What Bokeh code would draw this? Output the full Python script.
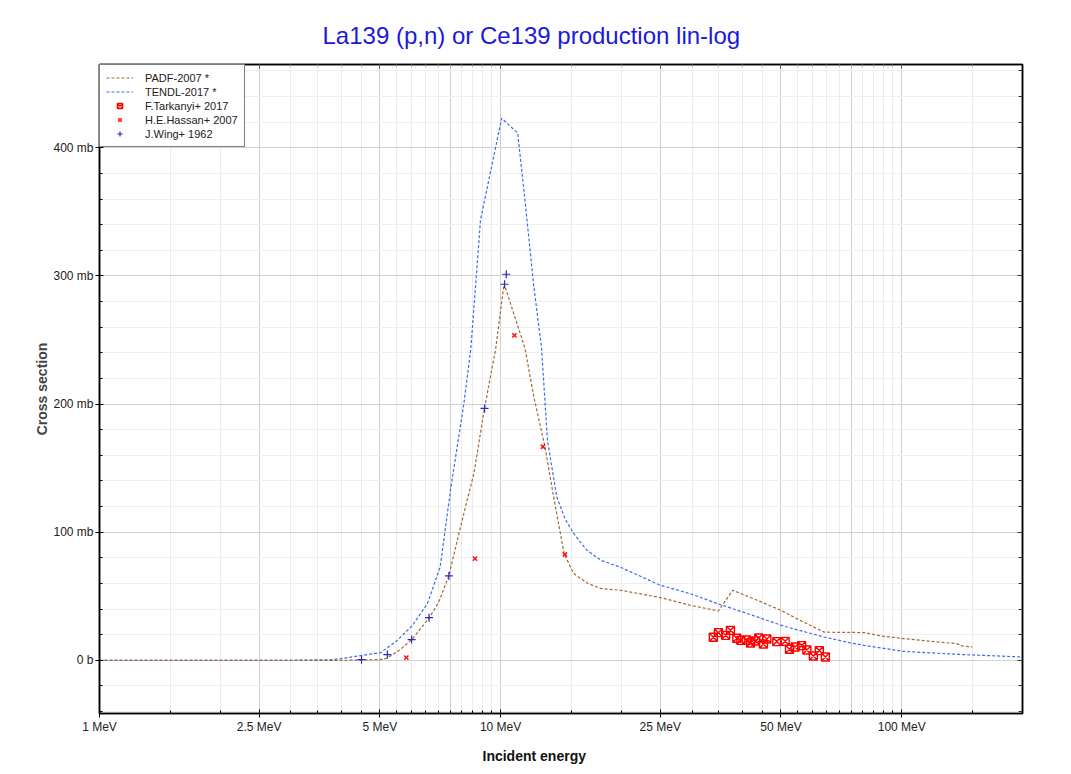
from bokeh.plotting import figure
from bokeh.models import (Range1d, FixedTicker, LogAxis, LinearAxis, Title, Legend, LegendItem)
from bokeh.embed import file_html
from bokeh.resources import INLINE

# ---------------- data ----------------
padf_e = [1, 2, 3, 4, 4.5, 5.0, 5.2, 5.6, 6.0, 6.63, 7.0, 7.43, 7.94, 8.58, 9.12, 9.72, 10.2,
          11.5, 12.1, 12.9, 13.6, 14.4, 15.2, 16.5, 17.8, 19.9, 25, 29.7, 34.9, 37.9, 43.6,
          50, 55.7, 64, 70, 75, 80.7, 88.9, 101, 117, 137, 142, 150]
padf_s = [0, 0, 0, 0, 0.2, 0.6, 1.5, 8, 16, 33, 45, 66, 104, 146, 197, 243, 294,
          243.5, 205.7, 166.6, 125, 83.3, 67.7, 60, 56, 54.7, 49, 43, 38.5, 54.7, 46.9,
          39, 31.3, 22, 21.8, 21.8, 21.6, 19, 17, 15, 13, 11.2, 10.4]

tendl_e = [1, 2, 3, 3.8, 4.0, 4.52, 5.02, 5.5, 6.03, 6.57, 7.07, 7.5, 8.1, 8.43, 8.91, 10.06,
           11.03, 11.5, 12.1, 12.65, 13.08, 13.8, 14.5, 15.2, 16.4, 17.8, 19.9, 25, 29.7, 34.7,
           43.6, 50.9, 64, 74.7, 80.7, 101, 137, 200]
tendl_s = [0, 0, 0, 0.5, 1.3, 3.9, 6, 15, 27.3, 44.3, 73, 133, 200.5, 243.5, 343.8, 423,
           411.5, 359, 291.6, 243.5, 172, 127.6, 110, 99, 86, 78, 72.6, 58.6, 52, 44.3,
           33.9, 26.6, 18.2, 13.5, 11.7, 7.0, 4.7, 2.6]

tark_e = [33.9, 34.9, 36.4, 37.4, 38.8, 39.7, 41.0, 42.0, 43.2, 44.0, 45.2, 46.1, 48.8,
          51.2, 52.5, 54.2, 56.3, 58.0, 60.2, 62.3, 64.5]
tark_s = [18.0, 21.6, 19.5, 23.4, 17.2, 15.6, 15.9, 13.5, 15.1, 17.4, 12.7, 16.6, 14.6,
          14.8, 8.6, 10.4, 11.5, 8.1, 3.4, 7.6, 2.6]

hass_e = [5.82, 8.63, 10.82, 12.75, 14.46]
hass_s = [2.1, 79.4, 253.6, 166.7, 82.6]

wing_e = [4.5, 5.22, 6.0, 6.63, 7.43, 9.12, 10.23, 10.33]
wing_s = [0.5, 4.5, 16.2, 33.3, 65.9, 196.6, 293.5, 301.3]

x_labeled = [1, 2.5, 5, 10, 25, 50, 100]
x_major_grid = [1, 2.5, 5, 7.5, 10, 25, 50, 75, 100]
x_minor = [1.5, 2, 3, 3.5, 4, 4.5, 5.5, 6, 6.5, 7, 7.5, 8, 8.5, 9, 9.5, 15, 20, 30, 35, 40, 45,
           55, 60, 65, 70, 75, 80, 85, 90, 95, 150]
x_labels = {1: "1 MeV", 2.5: "2.5 MeV", 5: "5 MeV", 10: "10 MeV", 25: "25 MeV",
            50: "50 MeV", 100: "100 MeV"}
y_major = [0, 100, 200, 300, 400]
y_minor = [-40, -20, 20, 40, 60, 80, 120, 140, 160, 180, 220, 240, 260, 280, 320, 340, 360,
           380, 420, 440, 460]
y_labels = {0: "0 b", 100: "100 mb", 200: "200 mb", 300: "300 mb", 400: "400 mb"}

FONT = "Liberation Sans"

p = figure(width=1046, height=773, x_axis_type="log",
           x_range=Range1d(1, 200), y_range=Range1d(-41.5, 465),
           output_backend="svg", toolbar_location=None,
           min_border_left=99, min_border_right=24, min_border_top=64, min_border_bottom=60)

p.title.text = "La139 (p,n) or Ce139 production lin-log"
p.title.text_font = FONT
p.title.text_font_size = "24px"
p.title.text_font_style = "normal"
p.title.text_color = "#1a1ad8"
p.title.align = "left"
p.title.offset = 223
p.title.standoff = 32

p.outline_line_color = "black"
p.outline_line_width = 1.5

xt = FixedTicker(ticks=x_labeled, minor_ticks=x_minor)
xgt = FixedTicker(ticks=x_major_grid, minor_ticks=x_minor)
yt = FixedTicker(ticks=y_major, minor_ticks=y_minor)

xa = p.xaxis[0]
xa.ticker = xt
xa.major_label_overrides = x_labels
ya = p.yaxis[0]
ya.ticker = yt
ya.major_label_overrides = y_labels
ya.axis_label = "Cross section"
ya.axis_label_text_font = FONT
ya.axis_label_text_font_size = "14px"
ya.axis_label_text_font_style = "bold"
ya.axis_label_standoff = 0

for ax in (xa, ya):
    ax.axis_line_color = "black"
    ax.axis_line_width = 1.5
    ax.major_tick_in = 4
    ax.major_tick_out = 4
    ax.minor_tick_in = 3
    ax.minor_tick_out = 0
    ax.major_tick_line_color = "black"
    ax.minor_tick_line_color = "black"
    ax.major_label_text_font = FONT
    ax.major_label_text_font_size = "12px"
    ax.major_label_text_color = "#222222"
    ax.major_label_standoff = 2

# top and right axes (ticks only, empty labels)
ta = LogAxis(ticker=xt, major_label_overrides={t: "" for t in x_labeled},
             major_label_standoff=0,
             major_tick_in=4, major_tick_out=0, minor_tick_in=2, minor_tick_out=0,
             axis_line_color="black", axis_line_width=1.5,
             major_tick_line_color="#555555", minor_tick_line_color="#888888")
p.add_layout(ta, "above")
ra = LinearAxis(ticker=yt, major_label_overrides={t: "" for t in y_major},
                major_label_standoff=0,
                major_tick_in=5, major_tick_out=0, minor_tick_in=4, minor_tick_out=0,
                axis_line_color="black", axis_line_width=1.5,
                major_tick_line_color="#333333", minor_tick_line_color="#333333")
p.add_layout(ra, "right")

p.xgrid.ticker = xgt
p.ygrid.ticker = yt
p.xgrid.grid_line_color = "#cfcfcf"
p.xgrid.minor_grid_line_color = "#ececec"
p.ygrid.grid_line_color = "#d2d2d2"
p.ygrid.minor_grid_line_color = "#efefef"

xlabel = Title(text="Incident energy", align="left", offset=383, standoff=19,
               text_font=FONT, text_font_size="14px", text_font_style="bold",
               text_color="#111111")
p.add_layout(xlabel, "below")

r_tendl = p.line(tendl_e, tendl_s, line_color="#3a6ee8", line_width=1.2, line_dash="3 2")
r_padf = p.line(padf_e, padf_s, line_color="#a06a36", line_width=1.2, line_dash="3 2")
r_tark = p.scatter(tark_e, tark_s, marker="square_x", size=8, fill_color=None,
                   line_color="#ff0000", line_width=1.4)
r_hass = p.scatter(hass_e, hass_s, marker="x", size=6, line_color="#ff1010", line_width=1.5)
r_wing = p.scatter(wing_e, wing_s, marker="cross", size=8, line_color="#2a2ab8", line_width=1.2)

legend = Legend(items=[
    LegendItem(label="PADF-2007 *", renderers=[r_padf]),
    LegendItem(label="TENDL-2017 *", renderers=[r_tendl]),
    LegendItem(label="F.Tarkanyi+ 2017", renderers=[r_tark]),
    LegendItem(label="H.E.Hassan+ 2007", renderers=[r_hass]),
    LegendItem(label="J.Wing+ 1962", renderers=[r_wing]),
], location="top_left")
legend.margin = 0
legend.padding = 6
legend.spacing = 1
legend.label_height = 13
legend.glyph_height = 13
legend.glyph_width = 27
legend.label_standoff = 12
legend.label_text_font = FONT
legend.label_text_font_size = "11px"
legend.label_text_color = "#222222"
legend.border_line_color = "black"
legend.border_line_width = 1
legend.background_fill_alpha = 1
p.add_layout(legend)

open("out.html", "w").write(file_html(p, INLINE))
